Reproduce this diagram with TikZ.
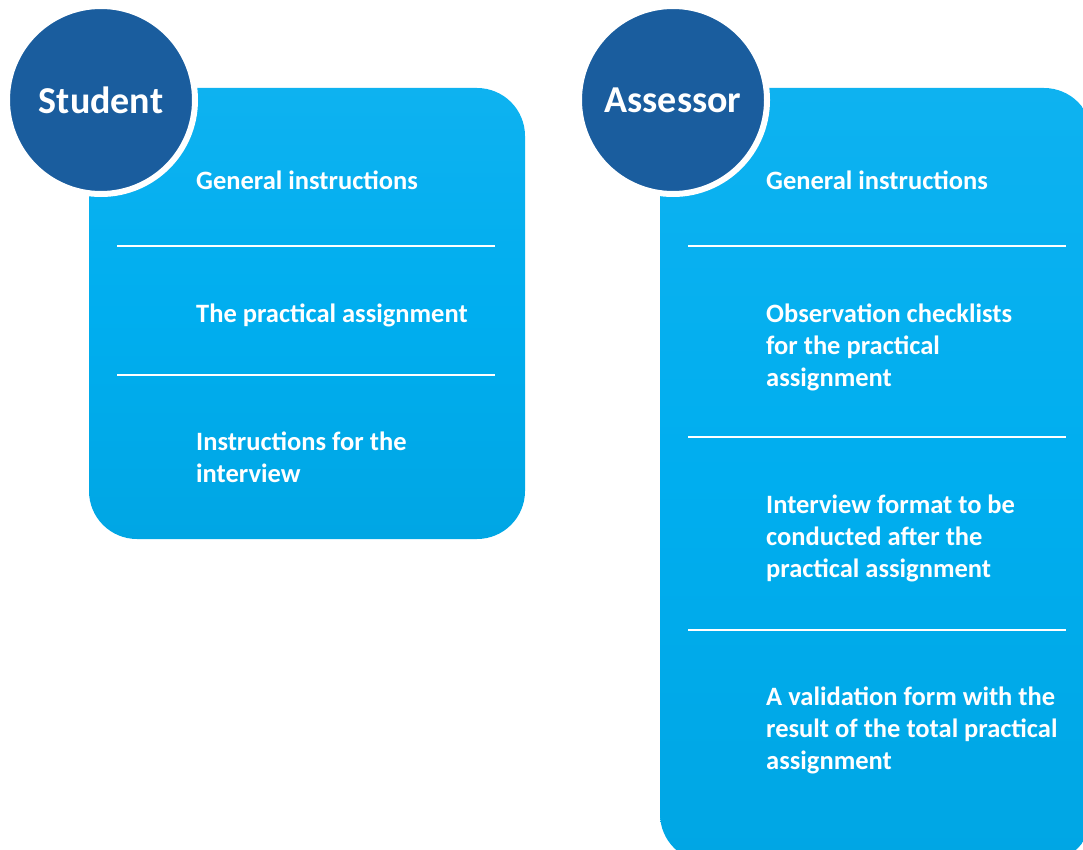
\documentclass[tikz,border=0pt]{standalone}
\usepackage{fontspec}
\setmainfont{Carlito}
\definecolor{boxblue}{RGB}{0,174,239}
\definecolor{boxtop}{RGB}{14,178,240}
\definecolor{boxbot}{RGB}{0,166,228}
\definecolor{circblue}{RGB}{26,93,158}
\begin{document}
\begin{tikzpicture}[x=1pt,y=-1pt,
  panel/.style={top color=boxtop, bottom color=boxbot, middle color=boxblue, draw=none, rounded corners=48pt},
  role/.style={circle, fill=circblue, draw=white, line width=6pt, inner sep=0pt, outer sep=0pt, minimum size=188pt, text=white, font=\bfseries\fontsize{38}{40}\selectfont},
  item/.style={anchor=north west, inner sep=0pt, text=white, align=left, font=\bfseries\fontsize{26.5}{32}\selectfont},
  sep/.style={draw=white, line width=1.6pt}]
\useasboundingbox (0,0) rectangle (1083,850);
\clip (0,0) rectangle (1083,850);
% panels
\path[panel] (89,88) rectangle (525,539);
\path[panel] (660,88) rectangle (1092,862);
% circles
\node[role] (student) at (101,100) {Student};
\node[role] (assessor) at (673,100) {Assessor};
% student items
\node[item] (s1) at (196,171) {General instructions};
\node[item] (s2) at (196,304) {The practical assignment};
\node[item] (s3) at (196,432) {Instructions for the\\interview};
\coordinate (sa1) at (117,246); \coordinate (sb1) at (495,246);
\coordinate (sa2) at (117,375); \coordinate (sb2) at (495,375);
\draw[sep] (sa1) -- (sb1);
\draw[sep] (sa2) -- (sb2);
% assessor items
\node[item] (a1) at (766,171) {General instructions};
\node[item] (a2) at (766,304) {Observation checklists\\for the practical\\assignment};
\node[item] (a3) at (766,495) {Interview format to be\\conducted after the\\practical assignment};
\node[item] (a4) at (766,687) {A validation form with the\\result of the total practical\\assignment};
\coordinate (aa1) at (688,246); \coordinate (ab1) at (1066,246);
\coordinate (aa2) at (688,437); \coordinate (ab2) at (1066,437);
\coordinate (aa3) at (688,630); \coordinate (ab3) at (1066,630);
\draw[sep] (aa1) -- (ab1);
\draw[sep] (aa2) -- (ab2);
\draw[sep] (aa3) -- (ab3);
\end{tikzpicture}
\end{document}
